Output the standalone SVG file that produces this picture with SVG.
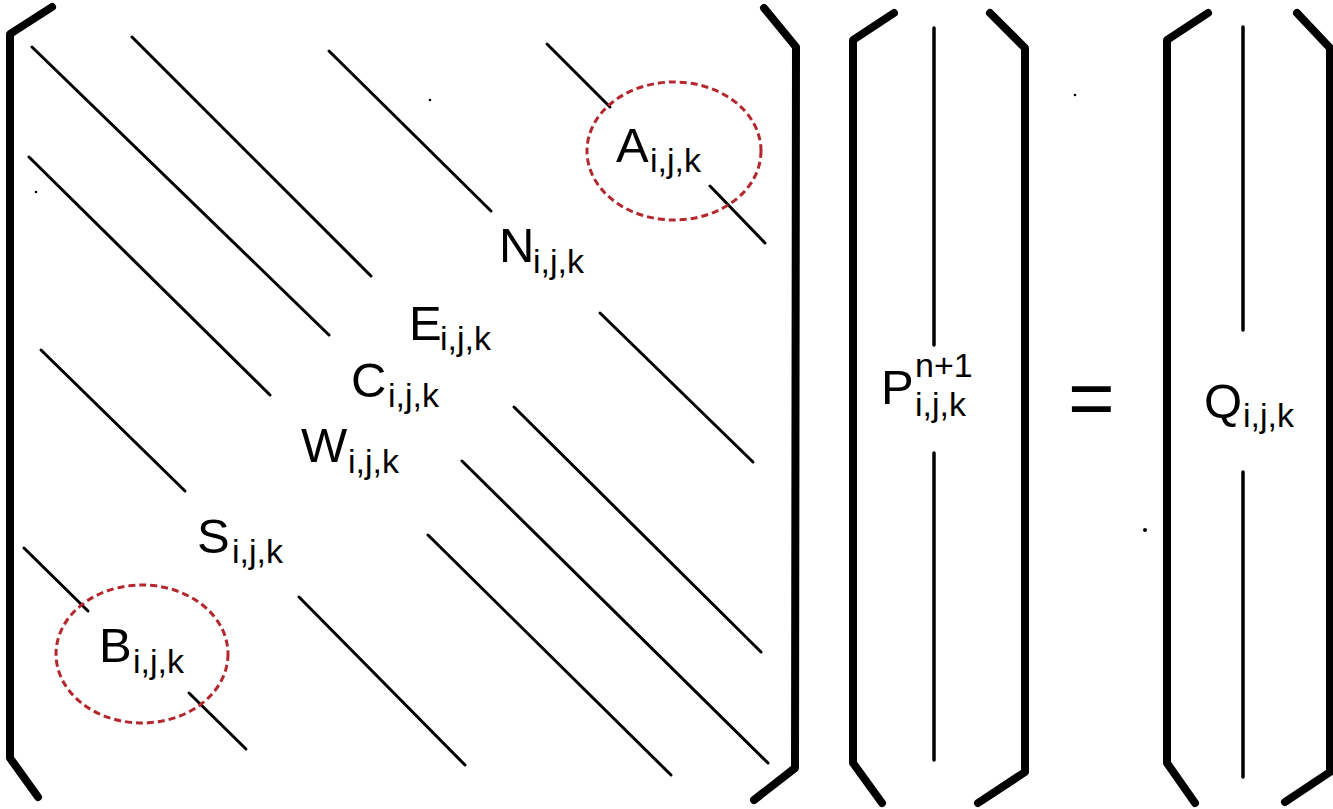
<svg xmlns="http://www.w3.org/2000/svg" width="1333" height="809" viewBox="0 0 1333 809">
<style>
.br{fill:none;stroke:#000;stroke-width:8;stroke-linecap:round;stroke-linejoin:round}
.dg{stroke:#000;stroke-width:3;stroke-linecap:round}
.vl{stroke:#000;stroke-width:3.5;stroke-linecap:round}
.el{fill:none;stroke:#b3272d;stroke-width:3;stroke-dasharray:7 4}
.t{font-family:"Liberation Sans",Arial,sans-serif;fill:#000}
.m{font-size:49px}
.s{font-size:34px}
</style>
<rect width="1333" height="809" fill="#fff"/>
<g id="brackets">
<polyline class="br" points="52,7 10,34 10,758 38,797"/>
<polyline class="br" points="764,8 796,47 795,768 754,800"/>
<polyline class="br" points="894,13 853,40 853,763 882,803"/>
<polyline class="br" points="990,13 1025,48 1025,772 978,803"/>
<polyline class="br" points="1208,13 1167,40 1167,763 1195,803"/>
<polyline class="br" points="1297,13 1330,48 1330,772 1285,802"/>
</g>
<g id="connectors">
<line class="dg" x1="32" y1="47" x2="329" y2="335"/>
<line class="dg" x1="132" y1="37" x2="371" y2="276"/>
<line class="dg" x1="329" y1="51" x2="491" y2="211"/>
<line class="dg" x1="547" y1="44" x2="610" y2="107"/>
<line class="dg" x1="710" y1="186" x2="765" y2="243"/>
<line class="dg" x1="29" y1="157" x2="270" y2="395"/>
<line class="dg" x1="41" y1="350" x2="185" y2="491"/>
<line class="dg" x1="600" y1="313" x2="753" y2="462"/>
<line class="dg" x1="514" y1="407" x2="761" y2="652"/>
<line class="dg" x1="462" y1="461" x2="768" y2="763"/>
<line class="dg" x1="428" y1="535" x2="671" y2="775"/>
<line class="dg" x1="299" y1="597" x2="465" y2="765"/>
<line class="dg" x1="24" y1="548" x2="88" y2="611"/>
<line class="dg" x1="189" y1="693" x2="246" y2="749"/>
<line class="vl" x1="934" y1="28" x2="934" y2="345"/>
<line class="vl" x1="934" y1="453" x2="934" y2="760"/>
<line class="vl" x1="1243" y1="27" x2="1243" y2="330"/>
<line class="vl" x1="1243" y1="472" x2="1243" y2="777"/>
</g>
<g id="ellipse-A"><ellipse class="el" cx="674" cy="151" rx="87" ry="69"/></g>
<g id="ellipse-B"><ellipse class="el" cx="142" cy="654" rx="86" ry="69"/></g>
<g id="label-A"><text class="t m" x="616" y="162">A</text><text class="t s" x="650" y="172">i,j,k</text></g>
<g id="label-N"><text class="t m" x="499" y="262">N</text><text class="t s" x="533" y="273">i,j,k</text></g>
<g id="label-E"><text class="t m" x="409" y="340">E</text><text class="t s" x="440" y="350">i,j,k</text></g>
<g id="label-C"><text class="t m" x="351" y="397">C</text><text class="t s" x="388" y="407">i,j,k</text></g>
<g id="label-W"><text class="t m" x="301" y="462">W</text><text class="t s" x="348" y="473">i,j,k</text></g>
<g id="label-S"><text class="t m" x="197" y="553">S</text><text class="t s" x="232" y="563">i,j,k</text></g>
<g id="label-B"><text class="t m" x="99" y="662">B</text><text class="t s" x="133" y="673">i,j,k</text></g>
<g id="label-P"><text class="t m" x="881" y="404">P</text><text class="t s" x="915" y="377">n+1</text><text class="t s" x="915" y="416">i,j,k</text></g>
<g id="label-eq"><text class="t" x="1068" y="425" font-size="80">=</text></g>
<g id="label-Q"><text class="t m" x="1204" y="418">Q</text><text class="t s" x="1243" y="427">i,j,k</text></g>
<g id="specks">
<circle cx="1145" cy="530" r="2"/>
<circle cx="430" cy="100" r="1.3"/>
<circle cx="1075" cy="95" r="1.3"/>
<circle cx="36" cy="192" r="1.3"/>
</g>
</svg>
